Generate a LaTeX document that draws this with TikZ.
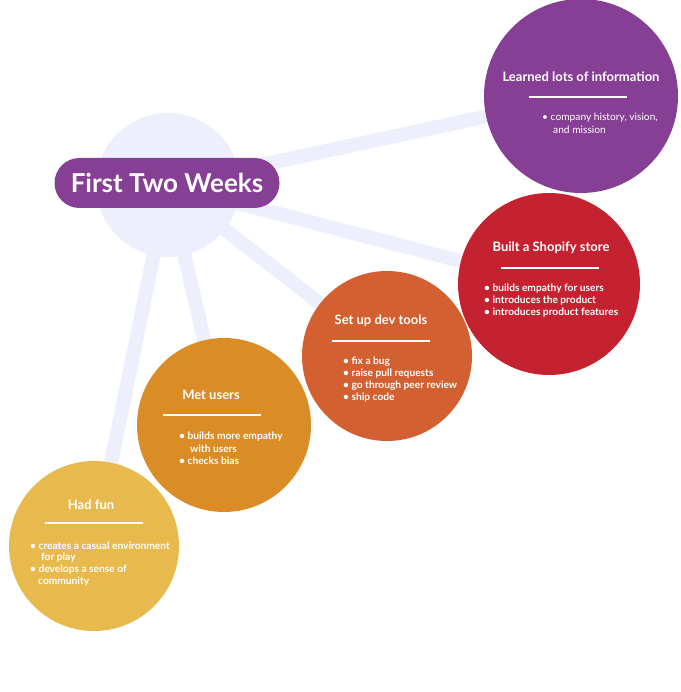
\documentclass[tikz,border=0pt]{standalone}
\usepackage{fontspec}
\setmainfont{Lato}
\begin{document}
\begin{tikzpicture}[x=1pt,y=-1pt,
  spoke/.style={line width=14pt,draw=hubblue},
  bubble/.style={circle,inner sep=0pt,minimum size=#1},
  ttl/.style={text=white,font=\bfseries\fontsize{13}{15}\selectfont,inner sep=0pt},
  itm/.style={text=white,font=\bfseries\fontsize{10.2}{12}\selectfont,inner sep=0pt,anchor=west},
  itml/.style={text=white,font=\fontsize{10.2}{12}\selectfont,inner sep=0pt,anchor=west},
  rule/.style={draw=white,line width=1.3pt}]
\definecolor{hubblue}{HTML}{EDF0FC}
\definecolor{cpurple}{HTML}{873F96}
\definecolor{cred}{HTML}{C42231}
\definecolor{corange}{HTML}{D26030}
\definecolor{camber}{HTML}{DA8D27}
\definecolor{cyellow}{HTML}{E8B94D}
\useasboundingbox (0,0) rectangle (680,692);
% hub
\node[bubble=144pt,fill=hubblue] (hub) at (168,185) {};
% circle centres
\coordinate (cP) at (581,96);
\coordinate (cR) at (549,284);
\coordinate (cO) at (387,356);
\coordinate (cA) at (224,425);
\coordinate (cY) at (94,546);
% spokes
\draw[spoke] (hub.center) -- (cP);
\draw[spoke] (hub.center) -- (cR);
\draw[spoke] (hub.center) -- (cO);
\draw[spoke] (hub.center) -- (cA);
\draw[spoke] (hub.center) -- (cY);
% bubbles
\node[bubble=194pt,fill=cpurple] (learn) at (cP) {};
\node[bubble=182pt,fill=cred] (shop) at (cR) {};
\node[bubble=170pt,fill=corange] (dev) at (cO) {};
\node[bubble=174pt,fill=camber] (met) at (cA) {};
\node[bubble=170pt,fill=cyellow] (fun) at (cY) {};
% central pill
\node[fill=cpurple,rounded corners=25pt,minimum width=225pt,minimum height=50pt,inner sep=0pt,
  text=white,font=\bfseries\fontsize{26}{30}\selectfont] (title) at (167,183) {First Two Weeks};
% Learned
\node[ttl] (t1) at (581,77) {Learned lots of information};
\coordinate (r1a) at (529,97); \coordinate (r1b) at (627,97);
\draw[rule] (r1a) -- (r1b);
\node[itml] (i11) at (542,118) {• company history, vision,};
\node[itml] (i12) at (553,130) {and mission};
% Shopify
\node[ttl] (t2) at (551,248) {Built a Shopify store};
\coordinate (r2a) at (501,268); \coordinate (r2b) at (599,268);
\draw[rule] (r2a) -- (r2b);
\node[itm] (i21) at (484,289) {• builds empathy for users};
\node[itm] (i22) at (484,301) {• introduces the product};
\node[itm] (i23) at (484,313) {• introduces product features};
% dev tools
\node[ttl] (t3) at (381,321) {Set up dev tools};
\coordinate (r3a) at (332,341); \coordinate (r3b) at (430,341);
\draw[rule] (r3a) -- (r3b);
\node[itm] (i31) at (343,362) {• fix a bug};
\node[itm] (i32) at (343,374) {• raise pull requests};
\node[itm] (i33) at (343,386) {• go through peer review};
\node[itm] (i34) at (343,398) {• ship code};
% met users
\node[ttl] (t4) at (211,395) {Met users};
\coordinate (r4a) at (163,415); \coordinate (r4b) at (261,415);
\draw[rule] (r4a) -- (r4b);
\node[itm] (i41) at (179,437) {• builds more empathy};
\node[itm] (i42) at (190,449) {with users};
\node[itm] (i43) at (179,461) {• checks bias};
% had fun
\node[ttl] (t5) at (91,505) {Had fun};
\coordinate (r5a) at (45,523); \coordinate (r5b) at (143,523);
\draw[rule] (r5a) -- (r5b);
\node[itm] (i51) at (30,546) {• creates a casual environment};
\node[itm] (i52) at (41,558) {for play};
\node[itm] (i53) at (30,570) {• develops a sense of};
\node[itm] (i54) at (38,582) {community};
\end{tikzpicture}
\end{document}
